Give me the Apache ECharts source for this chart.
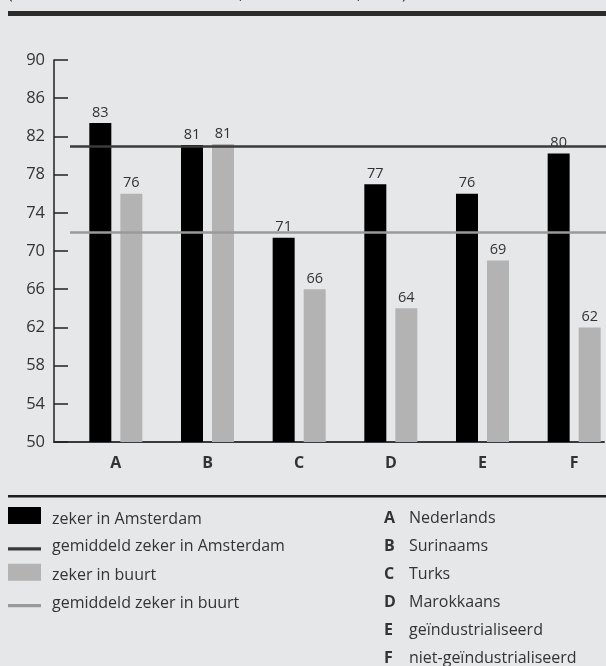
<!DOCTYPE html>
<html>
<head>
<meta charset="utf-8">
<script src="https://cdn.jsdelivr.net/npm/echarts@6/dist/echarts.min.js"></script>
<style>
html,body{margin:0;padding:0;background:#e6e7e8;}
#chart{width:606px;height:666px;}
</style>
</head>
<body>
<div id="chart"></div>
<script>
// ---- data ----
var categories = ['A', 'B', 'C', 'D', 'E', 'F'];
var zekerAmsterdam = [83.4, 81.1, 71.4, 77.0, 76.0, 80.2];
var zekerBuurt = [76.0, 81.2, 66.0, 64.0, 69.0, 62.0];
var gemAmsterdam = 81.0;
var gemBuurt = 72.0;
var yTicks = [50, 54, 58, 62, 66, 70, 74, 78, 82, 86, 90];
var seriesNames = ['zeker in Amsterdam', 'gemiddeld zeker in Amsterdam', 'zeker in buurt', 'gemiddeld zeker in buurt'];
var keyLetters = ['A', 'B', 'C', 'D', 'E', 'F'];
var keyNames = ['Nederlands', 'Surinaams', 'Turks', 'Marokkaans', 'geïndustrialiseerd', 'niet-geïndustrialiseerd'];
var titleText = '(aandeel bewoners dat zeker is, naar herkomst, 2004)';

var FONT = '"Open Sans", "Noto Sans", sans-serif';
var TXT = '#333333';

var chart = echarts.init(document.getElementById('chart'), null, {renderer: 'canvas'});

var keyGraphics = [];
keyLetters.forEach(function (l, i) {
  keyGraphics.push({
    type: 'text', left: 384, top: 510 + i * 28,
    style: {text: l, font: 'bold 16px ' + FONT, fill: TXT}
  });
  keyGraphics.push({
    type: 'text', left: 409, top: 510 + i * 28,
    style: {text: keyNames[i], font: '16px ' + FONT, fill: TXT}
  });
});

var yMin = yTicks[0], yMax = yTicks[yTicks.length - 1], yStep = yTicks[1] - yTicks[0];
var rectIcon = 'path://M0,0 L33,0 L33,17 L0,17 Z';
var lineIcon = 'path://M0,0 M0,11 L32,11 L32,14 L0,14 Z';

var option = {
  backgroundColor: '#e6e7e8',
  animation: false,
  textStyle: {fontFamily: FONT},
  grid: [
    {left: 54, width: 550, top: 60, bottom: 224, outerBoundsMode: 'none', containLabel: false},
    {left: 70, width: 550, top: 60, bottom: 224, outerBoundsMode: 'none', containLabel: false}
  ],
  xAxis: [
    {gridIndex: 0, type: 'value', min: 0, max: 1,
      axisLine: {show: true, lineStyle: {color: '#3a3a3a', width: 2}},
      axisTick: {show: false}, axisLabel: {show: false}, splitLine: {show: false}},
    {gridIndex: 1, type: 'category', data: categories,
      axisLine: {show: false}, axisTick: {show: false}, splitLine: {show: false},
      axisLabel: {fontSize: 16, fontWeight: 'bold', color: TXT, margin: 13, fontFamily: FONT}}
  ],
  yAxis: [
    {gridIndex: 0, type: 'value', min: yMin, max: yMax, interval: yStep,
      axisLine: {show: true, onZero: false, lineStyle: {color: '#222', width: 1.5}},
      axisTick: {show: true, inside: true, length: 14, lineStyle: {color: '#222', width: 1.5}},
      axisLabel: {fontSize: 16.5, color: TXT, margin: 9, fontFamily: FONT},
      splitLine: {show: false}},
    {gridIndex: 1, type: 'value', min: yMin, max: yMax, interval: yStep, show: false}
  ],
  legend: {
    orient: 'vertical', left: 8, top: 507, padding: 0,
    itemWidth: 33, itemHeight: 17, itemGap: 9, symbolKeepAspect: true,
    formatter: '{t|{name}}',
    textStyle: {fontSize: 16, color: TXT, fontFamily: FONT,
      rich: {t: {fontSize: 16, color: TXT, fontFamily: FONT, padding: [7, 0, 0, 6]}}},
    data: [
      {name: seriesNames[0], icon: rectIcon},
      {name: seriesNames[1], icon: lineIcon},
      {name: seriesNames[2], icon: rectIcon},
      {name: seriesNames[3], icon: lineIcon}
    ]
  },
  series: [
    {name: seriesNames[0], type: 'bar', xAxisIndex: 1, yAxisIndex: 1,
      data: zekerAmsterdam, barWidth: 22, barGap: '41%',
      itemStyle: {color: '#000000'},
      label: {show: true, position: 'top', distance: 3, fontSize: 14.5, color: TXT, fontFamily: FONT,
        formatter: function (p) { return Math.round(p.value); }}},
    {name: seriesNames[2], type: 'bar', xAxisIndex: 1, yAxisIndex: 1,
      data: zekerBuurt, barWidth: 22, barGap: '41%',
      itemStyle: {color: '#b3b3b3'},
      label: {show: true, position: 'top', distance: 3, fontSize: 14.5, color: TXT, fontFamily: FONT,
        formatter: function (p) { return Math.round(p.value); }}},
    {name: seriesNames[1], type: 'line', xAxisIndex: 1, yAxisIndex: 1, data: [],
      symbol: 'none', itemStyle: {color: '#3a3a3a'}, lineStyle: {color: '#3a3a3a', width: 2.5},
      markLine: {silent: true, symbol: 'none', label: {show: false},
        lineStyle: {color: '#3a3a3a', width: 2.5, type: 'solid'},
        data: [{yAxis: gemAmsterdam}]}},
    {name: seriesNames[3], type: 'line', xAxisIndex: 1, yAxisIndex: 1, data: [],
      symbol: 'none', itemStyle: {color: '#9a9a9a'}, lineStyle: {color: '#9a9a9a', width: 2.5},
      markLine: {silent: true, symbol: 'none', label: {show: false},
        lineStyle: {color: '#9a9a9a', width: 2.5, type: 'solid'},
        data: [{yAxis: gemBuurt}]}}
  ],
  graphic: [
    {type: 'text', left: 8, top: -14, style: {text: titleText, font: '16px ' + FONT, fill: TXT}},
    {type: 'rect', shape: {x: 8, y: 11, width: 598, height: 5}, style: {fill: '#2b2b2b'}},
    {type: 'rect', shape: {x: 8, y: 495, width: 598, height: 2.5}, style: {fill: '#1e1e1e'}}
  ].concat(keyGraphics)
};

chart.setOption(option);
</script>
</body>
</html>
